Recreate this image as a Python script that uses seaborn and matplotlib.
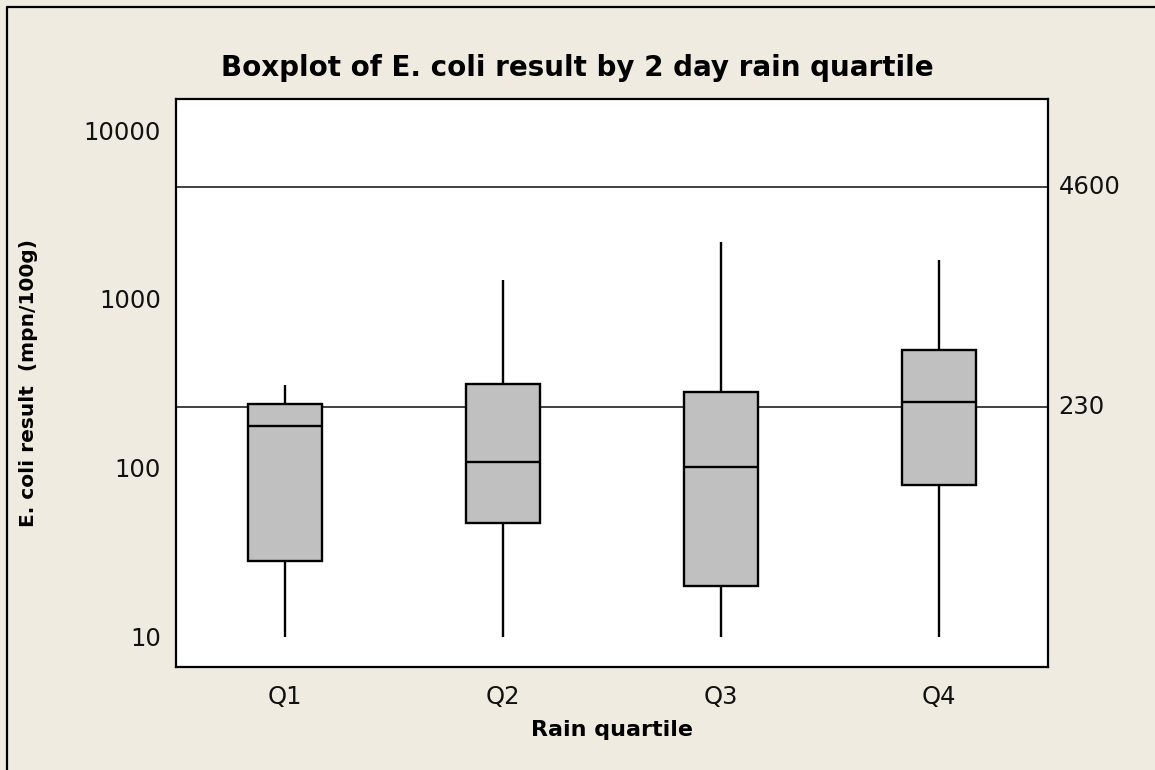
import numpy as np
import pandas as pd
import matplotlib
matplotlib.use("Agg")
import matplotlib.pyplot as plt
import matplotlib.transforms as mtransforms
from matplotlib.lines import Line2D
from matplotlib.ticker import FixedLocator, FixedFormatter, NullLocator
import seaborn as sns

# ---- data (five-number summaries) ----
categories = ["Q1", "Q2", "Q3", "Q4"]
whisker_low = [10, 10, 10, 10]
box_low = [28, 47, 20, 79]
medians = [177, 109, 102, 246]
box_high = [240, 315, 282, 500]
whisker_high = [308, 1290, 2170, 1700]
ref_values = [4600, 230]
ref_labels = ["4600", "230"]
y_ticks = [10, 100, 1000, 10000]
y_tick_labels = ["10", "100", "1000", "10000"]

title = "Boxplot of E. coli result by 2 day rain quartile"
xlabel = "Rain quartile"
ylabel = "E. coli result  (mpn/100g)"

rows = []
for c, a, b, m, d, e in zip(categories, whisker_low, box_low, medians, box_high, whisker_high):
    for v in (a, b, m, d, e):
        rows.append({"quartile": c, "value": v})
df = pd.DataFrame(rows)

sns.set_style("white")
plt.rcParams["font.family"] = ["DejaVu Sans"]
plt.rcParams["text.color"] = "black"
plt.rcParams["axes.labelcolor"] = "black"

bg = "#efebe1"
fig = plt.figure(figsize=(11.55, 7.7), dpi=100, facecolor=bg)
ax = fig.add_axes([0.1524, 0.1338, 0.9074 - 0.1524, 0.8714 - 0.1338])
ax.set_facecolor("white")

for v in ref_values:
    ax.axhline(v, color="#404040", linewidth=1.4, zorder=1)

sns.boxplot(data=df, x="quartile", y="value", order=categories, ax=ax,
            color="#c0c0c0", linecolor="black", linewidth=1.7, width=0.34,
            whis=(0, 100), log_scale=True, showcaps=False, showfliers=False,
            saturation=1, zorder=2)

ax.set_ylim(6.644, 15254)
ax.set_xlim(-0.5, 3.5)
ax.yaxis.set_major_locator(FixedLocator(y_ticks))
ax.yaxis.set_major_formatter(FixedFormatter(y_tick_labels))
ax.yaxis.set_minor_locator(NullLocator())

for s in ax.spines.values():
    s.set_visible(True)
    s.set_color("black")
    s.set_linewidth(1.6)

ax.tick_params(axis="both", which="major", direction="out", length=7, width=1.6,
               color="black", labelsize=17.5, pad=4, labelcolor="#111111")
ax.tick_params(axis="x", pad=6)
ax.grid(False)

ax.set_xlabel(xlabel, fontsize=16, fontweight="bold", labelpad=8, color="black")
ax.set_ylabel(ylabel, fontsize=14.5, fontweight="bold", labelpad=33, color="black")
fig.text(0.5, 1 - 68 / 770, title, fontsize=20, fontweight="bold", color="black",
         ha="center", va="center")

trans = mtransforms.blended_transform_factory(ax.transAxes, ax.transData)
for v, lab in zip(ref_values, ref_labels):
    ax.text(1.012, v, lab, transform=trans, va="center", ha="left", fontsize=17.5, color="#111111")

# figure frame (top and left lines)
fig.add_artist(Line2D([7 / 1155, 7 / 1155], [0, 1 - 7 / 770], transform=fig.transFigure, color="black", linewidth=1.6))
fig.add_artist(Line2D([7 / 1155, 1], [1 - 7 / 770, 1 - 7 / 770], transform=fig.transFigure, color="black", linewidth=1.6))

fig.savefig("out.png", dpi=100, facecolor=bg)
